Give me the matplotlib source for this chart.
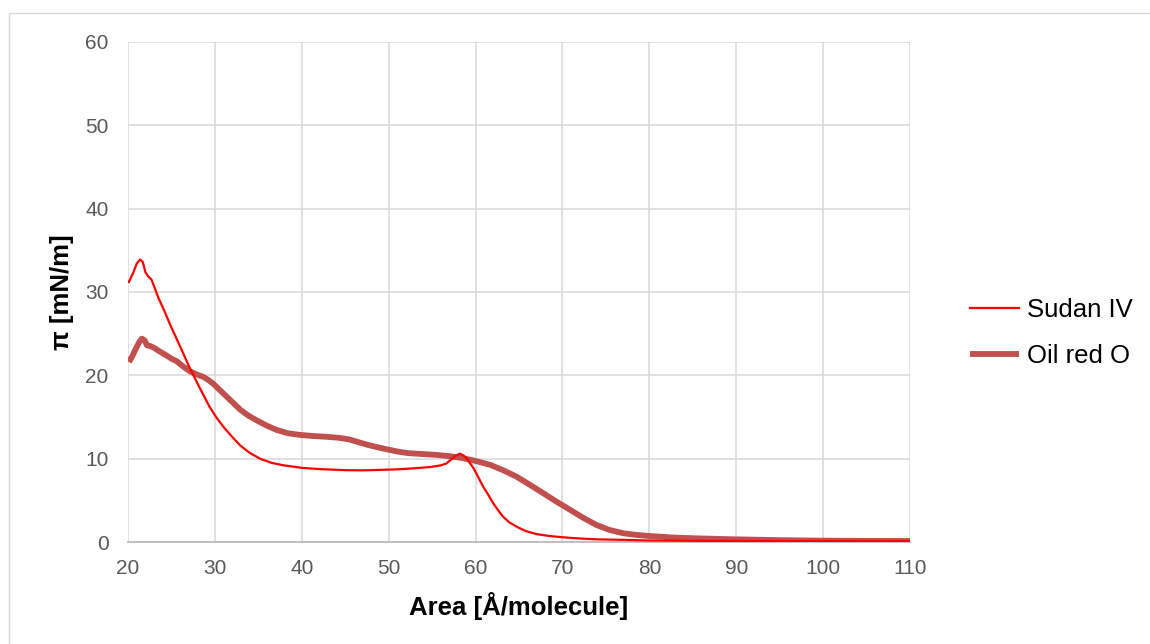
import matplotlib
matplotlib.use("Agg")
import matplotlib.pyplot as plt
from matplotlib.patches import Rectangle

# Surface pressure isotherms
sudan_area = [20.1, 20.6, 21.0, 21.4, 21.7, 22.0, 22.3, 22.7, 23.1, 23.5, 24.2, 24.8,
              25.5, 26.2, 27.1, 28.3, 29.4, 30.2, 31.0, 32.0, 32.9, 34.0, 35.2, 36.5,
              37.9, 40.0, 42.0, 45.0, 47.0, 49.0, 51.0, 53.0, 54.8, 56.0, 56.6, 57.2,
              57.8, 58.2, 58.6, 59.0, 59.4, 59.8, 60.4, 60.9, 61.5, 62.0, 62.6, 63.2,
              63.9, 64.7, 65.8, 67.0, 68.5, 70.1, 72.0, 73.9, 77.8, 80.0, 85.0, 90.0,
              100.0, 110.0]
sudan_pi = [31.2, 32.3, 33.4, 33.9, 33.6, 32.4, 31.9, 31.5, 30.4, 29.3, 27.7, 26.2,
            24.6, 23.0, 20.9, 18.4, 16.2, 14.9, 13.8, 12.6, 11.6, 10.7, 10.0, 9.5,
            9.2, 8.9, 8.75, 8.62, 8.6, 8.65, 8.72, 8.85, 9.0, 9.2, 9.4, 9.9,
            10.4, 10.6, 10.4, 10.0, 9.4, 8.8, 7.6, 6.6, 5.6, 4.7, 3.8, 3.0,
            2.35, 1.85, 1.3, 0.95, 0.72, 0.56, 0.42, 0.32, 0.24, 0.18, 0.14, 0.12,
            0.1, 0.1]

oil_area = [20.1, 20.5, 20.9, 21.3, 21.6, 21.9, 22.2, 22.6, 23.0, 23.6, 24.4, 25.0,
            25.6, 26.3, 27.1, 27.9, 28.7, 29.3, 29.8, 30.6, 31.4, 32.2, 32.9, 33.8,
            34.8, 35.9, 37.1, 38.4, 39.8, 41.3, 42.9, 44.3, 45.5, 46.6, 47.8, 49.0,
            50.1, 51.3, 52.4, 54.0, 55.5, 57.0, 58.6, 60.1, 61.7, 63.2, 64.7, 66.2,
            67.8, 69.3, 70.9, 72.4, 73.9, 75.4, 77.0, 78.5, 80.0, 82.5, 85.0, 90.0,
            95.0, 100.0, 105.0, 110.0]
oil_pi = [21.6, 22.3, 23.2, 24.0, 24.4, 24.2, 23.6, 23.5, 23.3, 22.9, 22.4, 22.0,
          21.7, 21.1, 20.5, 20.1, 19.8, 19.4, 19.0, 18.2, 17.4, 16.6, 15.9, 15.2,
          14.6, 14.0, 13.45, 13.05, 12.85, 12.72, 12.62, 12.5, 12.3, 11.95, 11.6, 11.3,
          11.05, 10.8, 10.65, 10.55, 10.45, 10.3, 10.05, 9.7, 9.25, 8.6, 7.85, 6.9,
          5.85, 4.85, 3.85, 2.9, 2.05, 1.45, 1.05, 0.85, 0.72, 0.55, 0.45, 0.32,
          0.22, 0.16, 0.13, 0.12]

x_ticks = [20, 30, 40, 50, 60, 70, 80, 90, 100, 110]
y_ticks = [0, 10, 20, 30, 40, 50, 60]

plt.rcParams['font.family'] = ['Liberation Sans', 'DejaVu Sans']

fig = plt.figure(figsize=(11.5, 6.44), dpi=100)
fig.patches.append(Rectangle((9 / 1150, -0.05), 1.2, 1 - 13 / 644 + 0.05,
                             transform=fig.transFigure, facecolor='none',
                             edgecolor='#D9D9D9', linewidth=1.0))

ax = fig.add_axes([128 / 1150, 1 - 542 / 644, 782 / 1150, 500 / 644])

ax.plot(sudan_area, sudan_pi, color='#FF0000', linewidth=1.6,
        solid_joinstyle='round', label='Sudan IV', zorder=3)
ax.plot(oil_area, oil_pi, color='#C0504D', linewidth=4.2,
        solid_joinstyle='round', solid_capstyle='butt', label='Oil red O', zorder=2)

ax.set_xlim(20, 110)
ax.set_ylim(0, 60)
ax.set_xticks(x_ticks)
ax.set_yticks(y_ticks)

ax.grid(True, color='#D9D9D9', linewidth=1.1, zorder=0)
ax.set_axisbelow(True)
for side in ('top', 'right', 'left'):
    ax.spines[side].set_visible(False)
ax.spines['bottom'].set_color('#BFBFBF')
ax.spines['bottom'].set_linewidth(1.4)

ax.tick_params(axis='both', length=0, labelsize=15, labelcolor='#595959')
ax.tick_params(axis='y', pad=14)
ax.tick_params(axis='x', pad=12)

ax.set_xlabel('Area [Å/molecule]', fontsize=18.5, fontweight='bold', color='black')
ax.set_ylabel('π [mN/m]', fontsize=18.5, fontweight='bold', color='black')
ax.xaxis.set_label_coords(0.5, -0.100)
ax.yaxis.set_label_coords(-0.069, 0.5)

ax.legend(loc='center left', bbox_to_anchor=(947 / 1150, 1 - 333 / 644),
          bbox_transform=fig.transFigure, frameon=False, fontsize=18.5,
          handlelength=1.9, handletextpad=0.3, labelspacing=0.85)

fig.savefig('out.png', dpi=100)
